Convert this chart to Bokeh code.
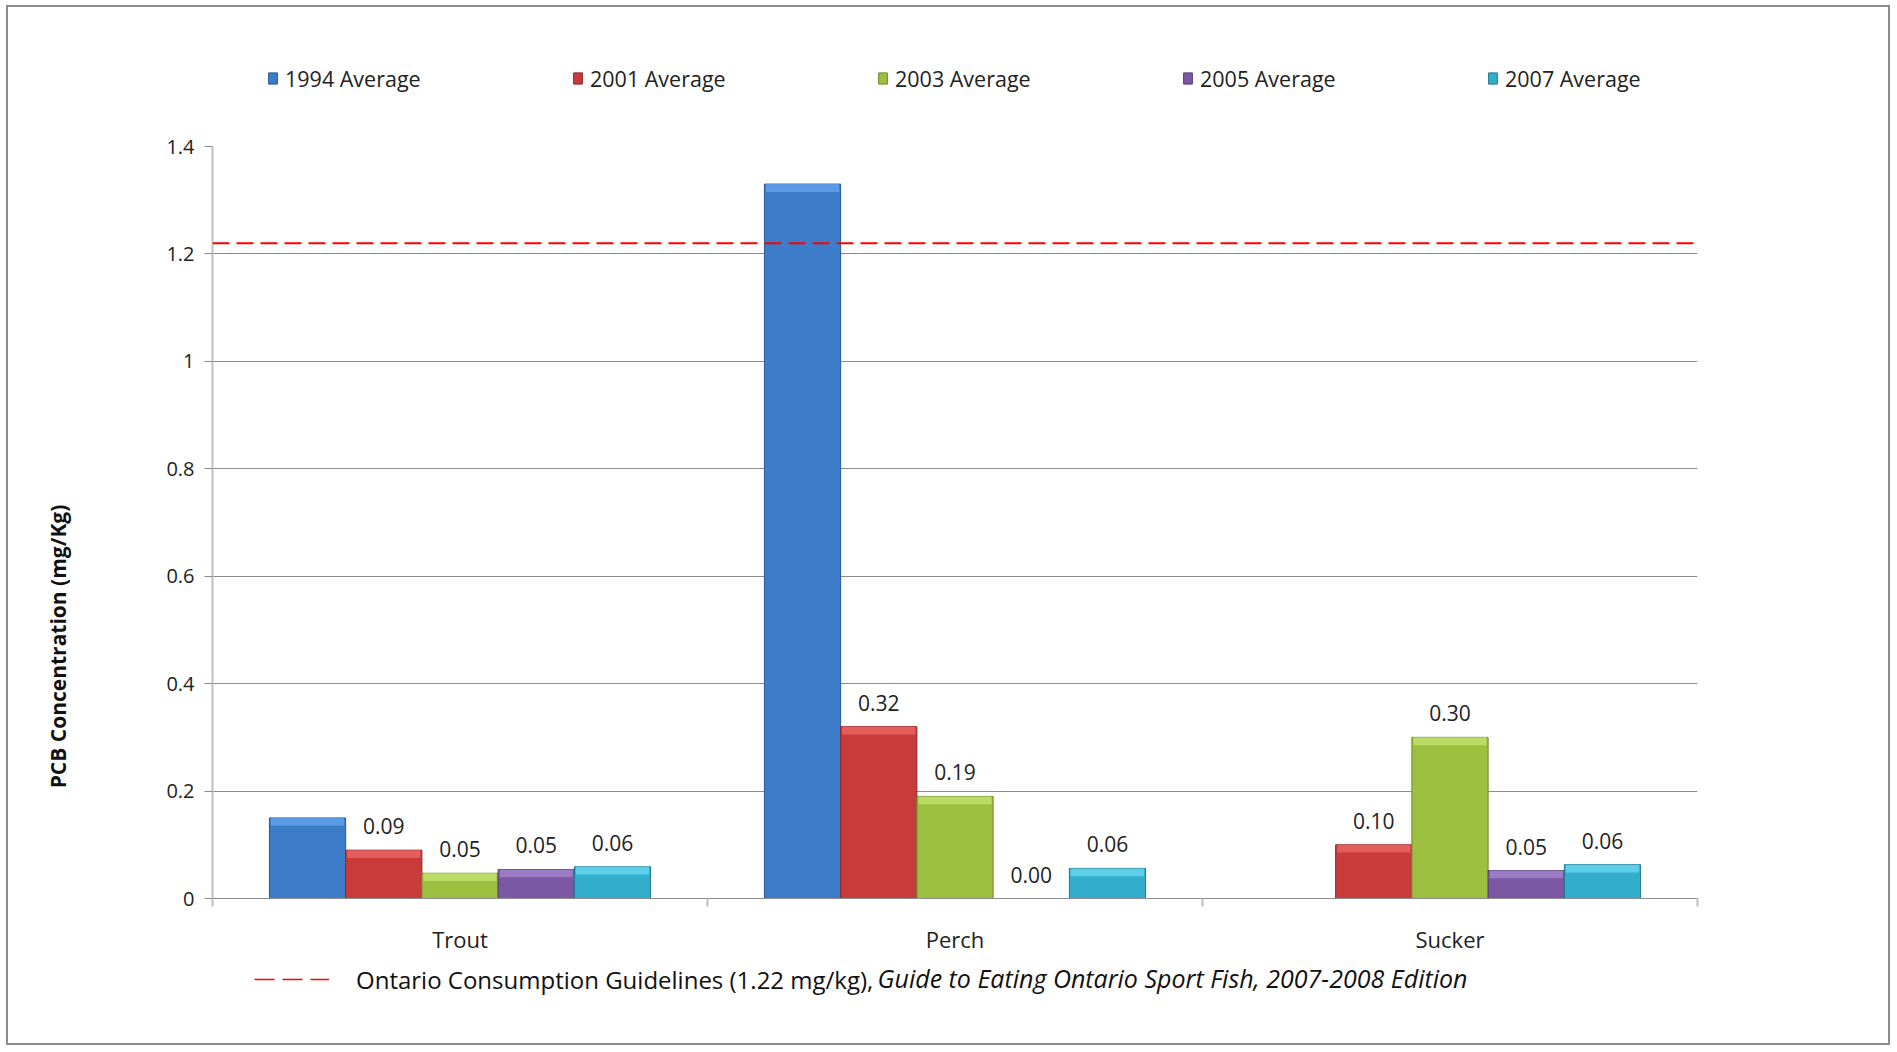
import math
from bokeh.plotting import figure
from bokeh.layouts import column, row
from bokeh.models import (FactorRange, Range1d, LinearAxis, CategoricalAxis, FixedTicker,
                          Span, Legend, LegendItem, Label, ColumnDataSource)
from bokeh.transform import dodge
from bokeh.core.properties import value
from bokeh.embed import file_html
from bokeh.resources import INLINE

# ---------------- data ----------------
categories = ["Trout", "Perch", "Sucker"]
series_names = ["1994 Average", "2001 Average", "2003 Average", "2005 Average", "2007 Average"]
avg_1994 = [0.15, 1.33, float("nan")]
avg_2001 = [0.09, 0.32, 0.10]
avg_2003 = [0.047, 0.19, 0.30]
avg_2005 = [0.054, 0.00, 0.052]
avg_2007 = [0.059, 0.056, 0.063]
guideline = 1.22
y_ticks = [0, 0.2, 0.4, 0.6, 0.8, 1.0, 1.2, 1.4]
y_tick_labels = ["0", "0.2", "0.4", "0.6", "0.8", "1", "1.2", "1.4"]
guide_label = "Ontario Consumption Guidelines (1.22 mg/kg),"
guide_source = "Guide to Eating Ontario Sport Fish, 2007-2008 Edition"
y_title = "PCB Concentration (mg/Kg)"

series_values = [avg_1994, avg_2001, avg_2003, avg_2005, avg_2007]
labelled = [False, True, True, True, True]

# ---------------- style ----------------
FONT = "Open Sans"
fills = ["#3D7CC9", "#C93B3B", "#9CBF40", "#7B57A4", "#32ADCB"]
tops = ["#5E9DE8", "#E66262", "#BFDE68", "#9D7FC8", "#62D3EE"]
edges = ["#2A5893", "#8C2627", "#6C8A2A", "#533A74", "#207890"]
bar_w = 0.154
offsets = [(j - 2) * bar_w for j in range(5)]
bevel = 0.0145

W_T = 80                      # left strip holding the y title
W = 1880 - W_T
H_HEAD, H_MAIN, H_FOOT = 110, 843, 83
H_ALL = H_HEAD + H_MAIN + H_FOOT
FL, FR = 204 - W_T, 1689 - W_T
FT, FB = 29, 781

src = ColumnDataSource(dict(cat=categories,
                            **{f"s{j}": series_values[j] for j in range(5)},
                            **{f"b{j}": [max(v - bevel, 0) if not math.isnan(v) else float("nan")
                                         for v in series_values[j]] for j in range(5)},
                            **{f"t{j}": ["%.2f" % v if not math.isnan(v) else "" for v in series_values[j]]
                               for j in range(5)}))

# ---------------- main plot ----------------
p = figure(width=W, height=H_MAIN,
           x_range=FactorRange(*categories), y_range=Range1d(0, 1.4),
           output_backend="svg", toolbar_location=None,
           x_axis_location=None, y_axis_location="left",
           min_border_left=FL, min_border_top=FT,
           min_border_right=W - FR, min_border_bottom=H_MAIN - FB)
p.outline_line_color = None
p.background_fill_color = "white"
p.border_fill_color = "white"

yax = p.yaxis[0]
yax.ticker = FixedTicker(ticks=y_ticks)
yax.major_label_overrides = {t: l for t, l in zip(y_ticks, y_tick_labels)}
yax.axis_line_color = "#c0c0c0"
yax.axis_line_width = 2
yax.major_tick_out = 8
yax.major_tick_in = 0
yax.major_tick_line_color = "#8c8c8c"
yax.minor_tick_line_color = None
yax.major_label_text_font = FONT
yax.major_label_text_font_size = "20px"
yax.major_label_text_color = "#222222"
yax.major_label_standoff = 10

p.ygrid.ticker = FixedTicker(ticks=y_ticks)
p.ygrid.grid_line_color = "#8c8c8c"
p.ygrid.grid_line_width = 1
p.xgrid.grid_line_color = None

boundaries = list(range(len(categories) + 1))
sep_axis = LinearAxis(ticker=FixedTicker(ticks=boundaries),
                      major_label_overrides={b: "" for b in boundaries},
                      major_label_text_font_size="1px", major_label_standoff=0,
                      major_tick_out=8, major_tick_in=0,
                      major_tick_line_color="#c0c0c0", major_tick_line_width=2,
                      minor_tick_line_color=None,
                      axis_line_color="#8c8c8c", axis_line_width=1)
p.add_layout(sep_axis, "below")
cat_axis = CategoricalAxis(axis_line_color=None, major_tick_line_color=None,
                           minor_tick_line_color=None,
                           major_label_text_font=FONT, major_label_text_font_size="22px",
                           major_label_text_color="#222222", major_label_standoff=11)
p.add_layout(cat_axis, "below")

for j in range(5):
    xs = dodge("cat", offsets[j], range=p.x_range)
    p.vbar(x=xs, top=f"s{j}", bottom=0, width=bar_w, source=src,
           fill_color=fills[j], line_color=edges[j], line_width=1)
    p.vbar(x=xs, top=f"s{j}", bottom=f"b{j}", width=bar_w - 0.006, source=src,
           fill_color=tops[j], line_color=None, fill_alpha=0.9)
    if labelled[j]:
        p.text(x=xs, y=f"s{j}", text=f"t{j}", source=src,
               text_font=value(FONT), text_font_size="21px", text_color="#222222",
               text_align="center", text_baseline="bottom", y_offset=-16)

p.add_layout(Span(location=guideline, dimension="width", line_color="#ff0000",
                  line_width=2, line_dash="17 7"))

# ---------------- header: series legend ----------------
h = figure(width=W, height=H_HEAD, x_range=FactorRange(*categories), y_range=Range1d(10, 11),
           output_backend="svg", toolbar_location=None,
           x_axis_location=None, y_axis_location=None, min_border=0)
h.outline_line_color = None
h.grid.visible = False
legend_renderers = []
for j in range(5):
    # off-screen copies of the series, used only as legend swatches
    legend_renderers.append(h.vbar(x=dodge("cat", offsets[j], range=h.x_range), top=f"s{j}",
                                   bottom=0, width=bar_w, source=src,
                                   fill_color=fills[j], line_color=edges[j]))
top_legend = Legend(items=[LegendItem(label=series_names[j], renderers=[legend_renderers[j]])
                           for j in range(5)],
                    orientation="horizontal", location=(55, 24),
                    glyph_width=11, glyph_height=14, label_standoff=7,
                    label_width=287, label_height=30, spacing=0, padding=0, margin=0,
                    border_line_color=None, background_fill_alpha=0,
                    label_text_font=FONT, label_text_font_size="21.5px",
                    label_text_color="#222222")
h.add_layout(top_legend, "center")

# ---------------- footer: guideline legend + source ----------------
f = figure(width=W, height=H_FOOT, x_range=FactorRange(*categories), y_range=Range1d(10, 11),
           output_backend="svg", toolbar_location=None,
           x_axis_location=None, y_axis_location=None, min_border=0)
f.outline_line_color = None
f.grid.visible = False
guide_r = f.line(x=[0, len(categories)], y=[guideline, guideline],
                 line_color="#ff0000", line_width=1.5, line_dash="20 8")
bot_legend = Legend(items=[LegendItem(label=guide_label, renderers=[guide_r])],
                    location=(42, 47), glyph_width=75, glyph_height=34,
                    label_standoff=27, label_height=34, padding=0, margin=0,
                    border_line_color=None, background_fill_alpha=0,
                    label_text_font=FONT, label_text_font_size="24px",
                    label_text_color="#111111")
f.add_layout(bot_legend, "center")
f.add_layout(Label(x=665, y=66, x_units="screen", y_units="screen", text=guide_source,
                   text_font=FONT, text_font_size="25px", text_font_style="italic",
                   text_color="#111111", text_baseline="middle", text_align="left"))

# ---------------- left strip: y title ----------------
t = figure(width=W_T, height=H_ALL, x_range=Range1d(0, 1), y_range=Range1d(0, 1),
           output_backend="svg", toolbar_location=None,
           x_axis_location=None, y_axis_location=None, min_border=0)
t.outline_line_color = None
t.grid.visible = False
t.add_layout(Label(x=49, y=H_ALL - 639, x_units="screen", y_units="screen", text=y_title,
                   angle=math.pi / 2, text_font=FONT, text_font_size="21px",
                   text_font_style="bold", text_color="#111111",
                   text_baseline="middle", text_align="center"))

layout = row(t, column(h, p, f, spacing=0), spacing=0)
layout.styles = {"border": "2px solid #8c8c8c", "margin-left": "6px", "margin-top": "5px"}

open("out.html", "w").write(file_html(layout, INLINE))
